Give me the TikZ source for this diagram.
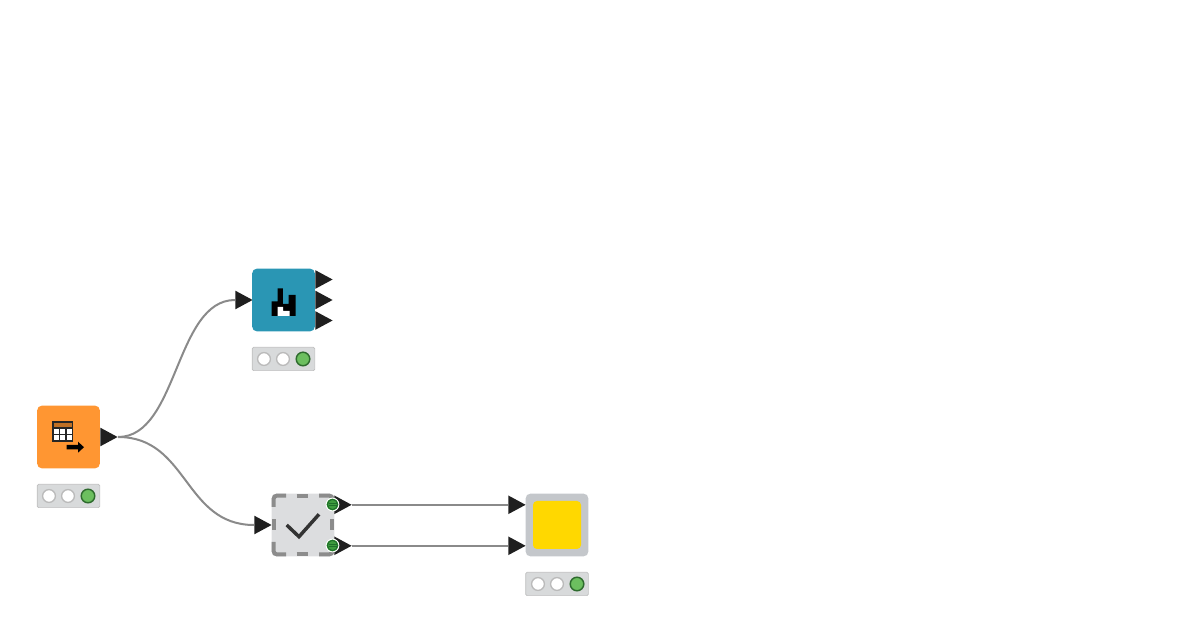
\documentclass[tikz,border=0pt]{standalone}
\usepackage{tikz}
\usetikzlibrary{shapes.geometric}
\definecolor{wirecol}{HTML}{8A8A8A}
\definecolor{portcol}{HTML}{1F1F1F}
\definecolor{sourcecol}{HTML}{FF9632}
\definecolor{viewcol}{HTML}{2A96B4}
\definecolor{sinkcol}{HTML}{C4C7CB}
\definecolor{metacol}{HTML}{FFD800}
\definecolor{checkcol}{HTML}{DCDDDF}
\definecolor{barcol}{HTML}{D8DADB}
\definecolor{greencol}{HTML}{6CBF5F}
\definecolor{ringcol}{HTML}{2E6B2E}
\definecolor{flowcol}{HTML}{3E9B3E}
\definecolor{flowdark}{HTML}{1F6F2A}
\tikzset{
  wire/.style={draw=wirecol,line width=1.5pt},
  port/.style={isosceles triangle,isosceles triangle apex angle=60,isosceles triangle stretches,
    minimum width=14pt,minimum height=13pt,inner sep=0pt,fill=portcol,anchor=lower side},
  nodebox/.style={rectangle,rounded corners=3.5pt,minimum size=47pt,inner sep=0pt},
  bar/.style={rectangle,rounded corners=1pt,minimum width=47pt,minimum height=17.5pt,inner sep=0pt,
    fill=barcol,draw=black!25,line width=0.5pt},
  offlight/.style={circle,minimum size=9.6pt,inner sep=0pt,fill=white,draw=black!27,line width=1pt},
  onlight/.style={circle,minimum size=10.2pt,inner sep=0pt,fill=greencol,draw=ringcol,line width=1.1pt},
  flowvar/.style={circle,minimum size=9.6pt,inner sep=0pt,fill=flowcol,draw=white,line width=0.7pt},
  dashedge/.style={draw=black!45,line width=3pt,rounded corners=2.2pt},
  flowbar/.style={draw=flowdark,line width=0.6pt},
}
\begin{document}
\begin{tikzpicture}[x=0.75pt,y=-0.75pt]
\useasboundingbox (0,0) rectangle (1200,630);

% source
\node[nodebox,fill=sourcecol] (source) at (68.5,437) {};
\node[port] (sourceout) at (100,437) {};
\node[bar] (sourcebar) at (68.5,496) {};
\node[offlight] (sourcea) at (49,496) {};
\node[offlight] (sourceb) at (68,496) {};
\node[onlight] (sourcec) at (88,496) {};

% table icon
\fill[sourcecol!75!black] (53,422) rectangle (72.5,428);
\fill[white] (53,428) rectangle (72.5,441);
\draw[black!85,line width=1.2pt] (53,422) rectangle (72.5,441);
\draw[black!85,line width=1.2pt] (53,428) -- (72.5,428) (53,434.7) -- (72.5,434.7);
\draw[black!85,line width=1.2pt] (59.6,428) -- (59.6,441) (65.9,428) -- (65.9,441);
\fill[black] (66.5,445) -- (78,445) -- (78,441.7) -- (84,447.2) -- (78,452.7) -- (78,449.5) -- (66.5,449.5) -- cycle;

% view
\node[port] (viewin) at (235,300) {};
\node[nodebox,fill=viewcol] (view) at (283.5,300) {};
\node[port] (viewouta) at (315,279.5) {};
\node[port] (viewoutb) at (315,300) {};
\node[port] (viewoutc) at (315,320.5) {};
\node[bar] (viewbar) at (283.5,359) {};
\node[offlight] (viewa) at (264,359) {};
\node[offlight] (viewb) at (283,359) {};
\node[onlight] (viewc) at (303,359) {};

% chart icon
\fill[black] (271.7,316) -- (271.7,301.5) -- (277.5,301.5) -- (277.5,288.5) -- (282.8,288.5) -- (282.8,304)
  -- (288.5,304) -- (288.5,295) -- (295.5,295) -- (295.5,316) -- cycle;
\fill[white] (277.7,316) -- (277.7,307) -- (283,307) -- (283,311) -- (289.5,311) -- (289.5,316) -- cycle;

% check
\node[port] (checkin) at (254,525) {};
\node[nodebox,fill=checkcol] (check) at (303,525) {};
\draw[dashedge] (273.7,507) -- (273.7,495.7) -- (286,495.7);
\draw[dashedge] (319,495.7) -- (332.4,495.7) -- (332.4,506);
\draw[dashedge] (273.7,542) -- (273.7,554.3) -- (286,554.3);
\draw[dashedge] (319,554.3) -- (332.4,554.3) -- (332.4,544);
\draw[dashedge] (296.7,495.7) -- (308.3,495.7);
\draw[dashedge] (296.7,554.3) -- (308.3,554.3);
\draw[dashedge] (273.7,519.3) -- (273.7,530.5);
\draw[dashedge] (332.4,519.3) -- (332.4,530.5);
\draw[black!80,line width=2.6pt] (286.7,525) -- (299,536.7) -- (319,514.3);
\node[port] (checkouta) at (334,504.8) {};
\node[port] (checkoutb) at (334,545.8) {};
\node[flowvar] (flowa) at (332.5,504.5) {};
\node[flowvar] (flowb) at (332.5,545.5) {};
\draw[flowdark,line width=0.7pt] (flowa.center) circle (3.8pt);
\draw[flowdark,line width=0.7pt] (flowb.center) circle (3.8pt);
\draw[flowbar] (328.5,503.3) -- (336.5,503.3) (328.5,505.9) -- (336.5,505.9);
\draw[flowbar] (328.5,544.3) -- (336.5,544.3) (328.5,546.9) -- (336.5,546.9);

% sink
\node[port] (sinkina) at (508,504.8) {};
\node[port] (sinkinb) at (508,545.8) {};
\node[nodebox,fill=sinkcol] (sink) at (557,525) {};
\node[rectangle,rounded corners=3pt,minimum size=36pt,inner sep=0pt,fill=metacol] (sinkface) at (557,525) {};
\node[bar] (sinkbar) at (557,584) {};
\node[offlight] (sinka) at (538,584) {};
\node[offlight] (sinkb) at (557,584) {};
\node[onlight] (sinkc) at (577,584) {};

% wires
\draw[wire] (sourceout.apex) .. controls +(60,0) and +(-60,0) .. (viewin.lower side);
\draw[wire] (sourceout.apex) .. controls +(70,0) and +(-70,0) .. (checkin.lower side);
\draw[wire] (checkouta.apex) -- (sinkina.lower side);
\draw[wire] (checkoutb.apex) -- (sinkinb.lower side);
\end{tikzpicture}
\end{document}
